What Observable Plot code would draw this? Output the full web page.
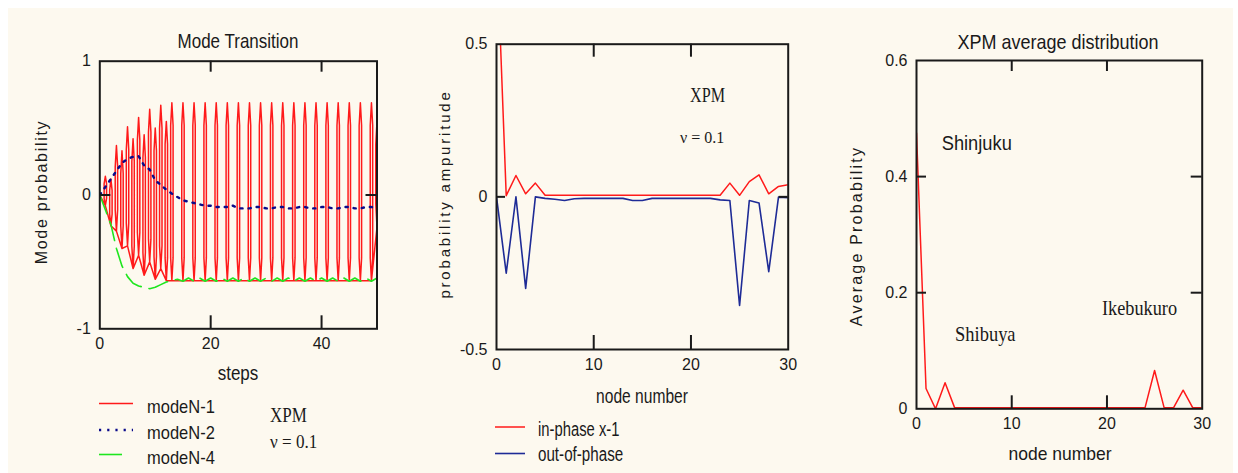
<!DOCTYPE html>
<html><head><meta charset="utf-8">
<script src="https://cdn.jsdelivr.net/npm/d3@7"></script>
<script src="https://cdn.jsdelivr.net/npm/@observablehq/plot@0.6"></script>
<style>
body{margin:0;background:#fff;width:1238px;height:473px;overflow:hidden;position:relative;color:#111}
#bg{position:absolute;left:8px;top:8px;width:1225px;height:465px;background:#fdf9ef}
.abs{position:absolute;white-space:nowrap;line-height:1}
</style></head><body>
<div id="bg"></div>
<div id="p1" class="abs" style="left:0;top:0"></div>
<div id="p2" class="abs" style="left:400px;top:0"></div>
<div id="p3" class="abs" style="left:820px;top:0"></div>
<svg id="leg" class="abs" style="left:0;top:0" width="1238" height="473"></svg>
<script>
// ---------- Panel 1: Mode Transition ----------
const steps = d3.range(0, 51);
const modeN2 = [0, 0.06, 0.12, 0.18, 0.24, 0.27, 0.285, 0.29, 0.22, 0.19, 0.11, 0.075, 0.04, 0.01, -0.015,
  -0.04, -0.05, -0.06, -0.07, -0.08, -0.08, -0.09, -0.09, -0.09, -0.08, -0.1, -0.1, -0.1, -0.09, -0.09,
  -0.1, -0.1, -0.09, -0.09, -0.1, -0.1, -0.09, -0.09, -0.1, -0.1, -0.09, -0.09, -0.1, -0.1, -0.09,
  -0.09, -0.1, -0.1, -0.09, -0.09, -0.1];
const modeN4 = [0, -0.11, -0.22, -0.40, -0.53, -0.61, -0.66, -0.68, -0.69, -0.70, -0.69, -0.67, -0.65, -0.64, -0.63,
  -0.645, -0.62, -0.645, -0.62, -0.645, -0.62, -0.645, -0.62, -0.645, -0.62, -0.645, -0.62, -0.645, -0.62, -0.645,
  -0.62, -0.645, -0.62, -0.645, -0.62, -0.645, -0.62, -0.645, -0.62, -0.645, -0.62, -0.645, -0.62, -0.645, -0.62,
  -0.645, -0.62, -0.645, -0.62, -0.645, -0.62];
// modeN-1 oscillation: each swing read as a column (step, top, bottom)
const n1Steps   = [1, 2, 3, 4, 5, 6, 7, 8, 9, 10, 11, 12, 13, 15, 17, 19, 21, 23, 25, 27, 29, 31, 33, 35, 37, 39, 41, 43, 45, 47, 49, 50];
const n1Tops    = [0.14, 0.12, 0.37, 0.33, 0.51, 0.42, 0.58, 0.45, 0.64, 0.50, 0.67, 0.55, 0.69,
  0.69, 0.69, 0.69, 0.69, 0.69, 0.69, 0.69, 0.69, 0.69, 0.69, 0.69, 0.69, 0.69, 0.69, 0.69, 0.69, 0.69, 0.69, 0.55];
const n1Bottoms = [-0.08, -0.23, -0.27, -0.40, -0.38, -0.55, -0.45, -0.60, -0.50, -0.63, -0.55, -0.64, -0.64,
  -0.64, -0.64, -0.64, -0.64, -0.64, -0.64, -0.64, -0.64, -0.64, -0.64, -0.64, -0.64, -0.64, -0.64, -0.64, -0.64, -0.64, -0.64, -0.24];
const p1Ticks = {x: [0, 20, 40], y: [-1, 0, 1]};

// ---------- Panel 2: amplitudes ----------
const nodes = d3.range(0, 31);
const inPhase = [0.85, 0.004, 0.07, 0.01, 0.045, 0.005, 0.005, 0.005, 0.005, 0.005, 0.005, 0.005, 0.005, 0.005, 0.005,
  0.005, 0.005, 0.005, 0.005, 0.005, 0.005, 0.005, 0.005, 0.005, 0.045, 0.005, 0.05, 0.072, 0.01, 0.034, 0.04];
const outPhase = [0, -0.25, 0, -0.30, 0, -0.005, -0.008, -0.012, -0.006, -0.005, -0.005, -0.005, -0.005, -0.005, -0.012,
  -0.012, -0.005, -0.005, -0.005, -0.005, -0.005, -0.005, -0.005, -0.01, -0.012, -0.356, -0.012, -0.02, -0.245, -0.001, -0.003];
const p2Ticks = {x: [0, 10, 20, 30], y: [-0.5, 0, 0.5]};

// ---------- Panel 3: average distribution ----------
const avgProb = [0.475, 0.035, 0.0, 0.045, 0.002, 0.002, 0.002, 0.002, 0.002, 0.002, 0.002, 0.002, 0.002, 0.002, 0.002,
  0.002, 0.002, 0.002, 0.002, 0.002, 0.002, 0.002, 0.002, 0.002, 0.002, 0.066, 0.002, 0.002, 0.032, 0.002, 0.002];
const p3Ticks = {x: [0, 10, 20, 30], y: [0, 0.2, 0.4, 0.6]};

// ---------- build ----------
const RED = "#ff1a1a", NAVY = "#0a0a8a", BLUE2 = "#1e2b96", GREEN = "#1fe61f", INK = "#1a1a1a";
const SANS = '"Liberation Sans", Arial, sans-serif';
const SERIF = '"Liberation Serif", "Times New Roman", serif';

function innerTicks(fw, fh, xt, yt, lens) {
  return [
    Plot.tickX(xt, {insetTop: fh - lens[0], stroke: INK, strokeWidth: 2}),
    Plot.tickX(xt, {insetBottom: fh - lens[1], stroke: INK, strokeWidth: 2}),
    Plot.tickY(yt, {insetRight: fw - lens[2], stroke: INK, strokeWidth: 2}),
    Plot.tickY(yt, {insetLeft: fw - lens[3], stroke: INK, strokeWidth: 2})
  ];
}
function axes(t, fs) {
  return [
    Plot.axisX(t.x, {tickSize: 0, tickPadding: 9, label: null, tickFormat: d => String(d), fontSize: fs}),
    Plot.axisY(t.y, {tickSize: 0, tickPadding: 9, label: null, tickFormat: d => String(d), fontSize: fs})
  ];
}
const baseStyle = {background: "transparent", fontFamily: SANS, fontSize: "16px", color: INK, overflow: "visible"};

// panel 1 path of modeN-1 columns
const red1 = [{t: 0, v: 0}];
n1Steps.forEach((c, i) => {
  const t = n1Tops[i], b = n1Bottoms[i], w = 0.22, d = Math.min(0.17, (t - b) / 4);
  red1.push({t: c, v: b}, {t: c - w, v: b + d}, {t: c - w, v: t - d}, {t: c, v: t},
            {t: c + w, v: t - d}, {t: c + w, v: b + d}, {t: c, v: b});
});
{
  const W = 400, H = 360, ml = 99.3, mr = 23.5, mt = 60.7, mb = 31.7;
  const fw = W - ml - mr, fh = H - mt - mb;
  document.getElementById("p1").append(Plot.plot({
    width: W, height: H, marginLeft: ml, marginRight: mr, marginTop: mt, marginBottom: mb,
    x: {domain: [0, 50]}, y: {domain: [-1, 1]}, style: baseStyle,
    marks: [
      Plot.line(red1, {x: "t", y: "v", stroke: RED, strokeWidth: 1.5, clip: true}),
      Plot.line(steps, {x: d => d, y: (d, i) => modeN4[i], stroke: GREEN, strokeWidth: 1.6, strokeDasharray: "20,8", clip: true}),
      Plot.line(steps, {x: d => d, y: (d, i) => modeN2[i], stroke: NAVY, strokeWidth: 2.4, strokeDasharray: "2.2,6", clip: true}),
      ...innerTicks(fw, fh, [20, 40], [0], [13, 11, 11, 11]),
      Plot.frame({stroke: INK, strokeWidth: 2}),
      ...axes(p1Ticks, 16)
    ]
  }));
}
{
  const W = 420, H = 380, ml = 96, mr = 32.3, mt = 43.7, mb = 31;
  const fw = W - ml - mr, fh = H - mt - mb;
  document.getElementById("p2").append(Plot.plot({
    width: W, height: H, marginLeft: ml, marginRight: mr, marginTop: mt, marginBottom: mb,
    x: {domain: [0, 30]}, y: {domain: [-0.5, 0.5]}, style: baseStyle,
    marks: [
      Plot.line(nodes, {x: d => d, y: (d, i) => outPhase[i], stroke: BLUE2, strokeWidth: 1.6, clip: true}),
      Plot.line(nodes, {x: d => d, y: (d, i) => inPhase[i], stroke: RED, strokeWidth: 1.5, clip: true}),
      ...innerTicks(fw, fh, [10, 20], [0], [14, 13, 9, 9]),
      Plot.frame({stroke: INK, strokeWidth: 2}),
      ...axes(p2Ticks, 16)
    ]
  }));
}
{
  const W = 418, H = 440, ml = 96, mr = 36.3, mt = 60, mb = 31.7;
  const fw = W - ml - mr, fh = H - mt - mb;
  document.getElementById("p3").append(Plot.plot({
    width: W, height: H, marginLeft: ml, marginRight: mr, marginTop: mt, marginBottom: mb,
    x: {domain: [0, 30]}, y: {domain: [0, 0.6]}, style: baseStyle,
    marks: [
      Plot.line(nodes, {x: d => d, y: (d, i) => avgProb[i], stroke: RED, strokeWidth: 1.5, clip: true}),
      ...innerTicks(fw, fh, [10, 20], [0.2, 0.4], [13, 11, 10, 11]),
      Plot.frame({stroke: INK, strokeWidth: 2}),
      ...axes(p3Ticks, 16)
    ]
  }));
}

// ---------- texts ----------
function txt(s, x, y, o = {}) {
  const d = document.createElement("div");
  d.className = "abs"; d.textContent = s;
  d.style.left = x + "px"; d.style.top = y + "px";
  d.style.fontFamily = o.f || SANS; d.style.fontSize = (o.size || 17) + "px";
  d.style.color = INK;
  if (o.ls) d.style.letterSpacing = o.ls + "px";
  const tx = o.anchor === "start" ? "0" : "-50%";
  d.style.transformOrigin = "0 0";
  d.style.transform = `rotate(${o.rot || 0}deg) scale(${o.sx || 1},${o.sy || 1}) translate(${tx},-50%)`;
  document.body.append(d);
}
txt("Mode Transition", 238, 41.5, {size: 17, sy: 1.18});
txt("steps", 238, 374, {size: 17, sy: 1.15});
txt("Mode probability", 41.7, 192, {size: 16, ls: 1.7, rot: -90, sy: 1.05});
txt("modeN-1", 147, 406, {size: 16.5, sy: 1.15, anchor: "start"});
txt("modeN-2", 147, 432, {size: 16.5, sy: 1.15, anchor: "start"});
txt("modeN-4", 147, 457, {size: 16.5, sy: 1.15, anchor: "start"});
txt("XPM", 270, 415, {f: SERIF, size: 20, sx: 0.85, anchor: "start"});
txt("ν = 0.1", 270, 441.5, {f: SERIF, size: 18, sx: 0.95, anchor: "start"});

txt("XPM", 690, 94.5, {f: SERIF, size: 21, sx: 0.77, anchor: "start"});
txt("ν = 0.1", 680, 138, {f: SERIF, size: 16, anchor: "start"});
txt("node number", 642, 396, {size: 19, sx: 0.82, sy: 1.05});
txt("probability ampuritude", 444, 194, {size: 15, ls: 2.8, rot: -90});
txt("in-phase x-1", 538, 430, {size: 18.5, sx: 0.8, sy: 1.08, anchor: "start"});
txt("out-of-phase", 538, 455, {size: 18.5, sx: 0.82, sy: 1.08, anchor: "start"});

txt("XPM average distribution", 1058, 42, {size: 18, sy: 1.1});
txt("node number", 1060, 454, {size: 17.5, sy: 1.1});
txt("Average Probability", 856.7, 236, {size: 16, ls: 2.2, rot: -90});
txt("Shinjuku", 941.7, 143, {size: 18.3, sy: 1.15, anchor: "start"});
txt("Shibuya", 955, 333.5, {f: SERIF, size: 21, sx: 0.88, anchor: "start"});
txt("Ikebukuro", 1101.7, 307.5, {f: SERIF, size: 21, sx: 0.87, anchor: "start"});

// ---------- legend swatches ----------
const leg = d3.select("#leg");
const sw = [
  {x1: 99, x2: 133, y: 403.5, c: RED, w: 1.5, da: null},
  {x1: 99, x2: 133, y: 430, c: NAVY, w: 2.4, da: "2.2,6"},
  {x1: 99, x2: 122, y: 454.5, c: GREEN, w: 1.6, da: null},
  {x1: 495, x2: 525, y: 427, c: RED, w: 1.5, da: null},
  {x1: 495, x2: 525, y: 453.5, c: BLUE2, w: 1.6, da: null}
];
sw.forEach(s => leg.append("line").attr("x1", s.x1).attr("x2", s.x2).attr("y1", s.y).attr("y2", s.y)
  .attr("stroke", s.c).attr("stroke-width", s.w).attr("stroke-dasharray", s.da));
</script>
</body></html>
